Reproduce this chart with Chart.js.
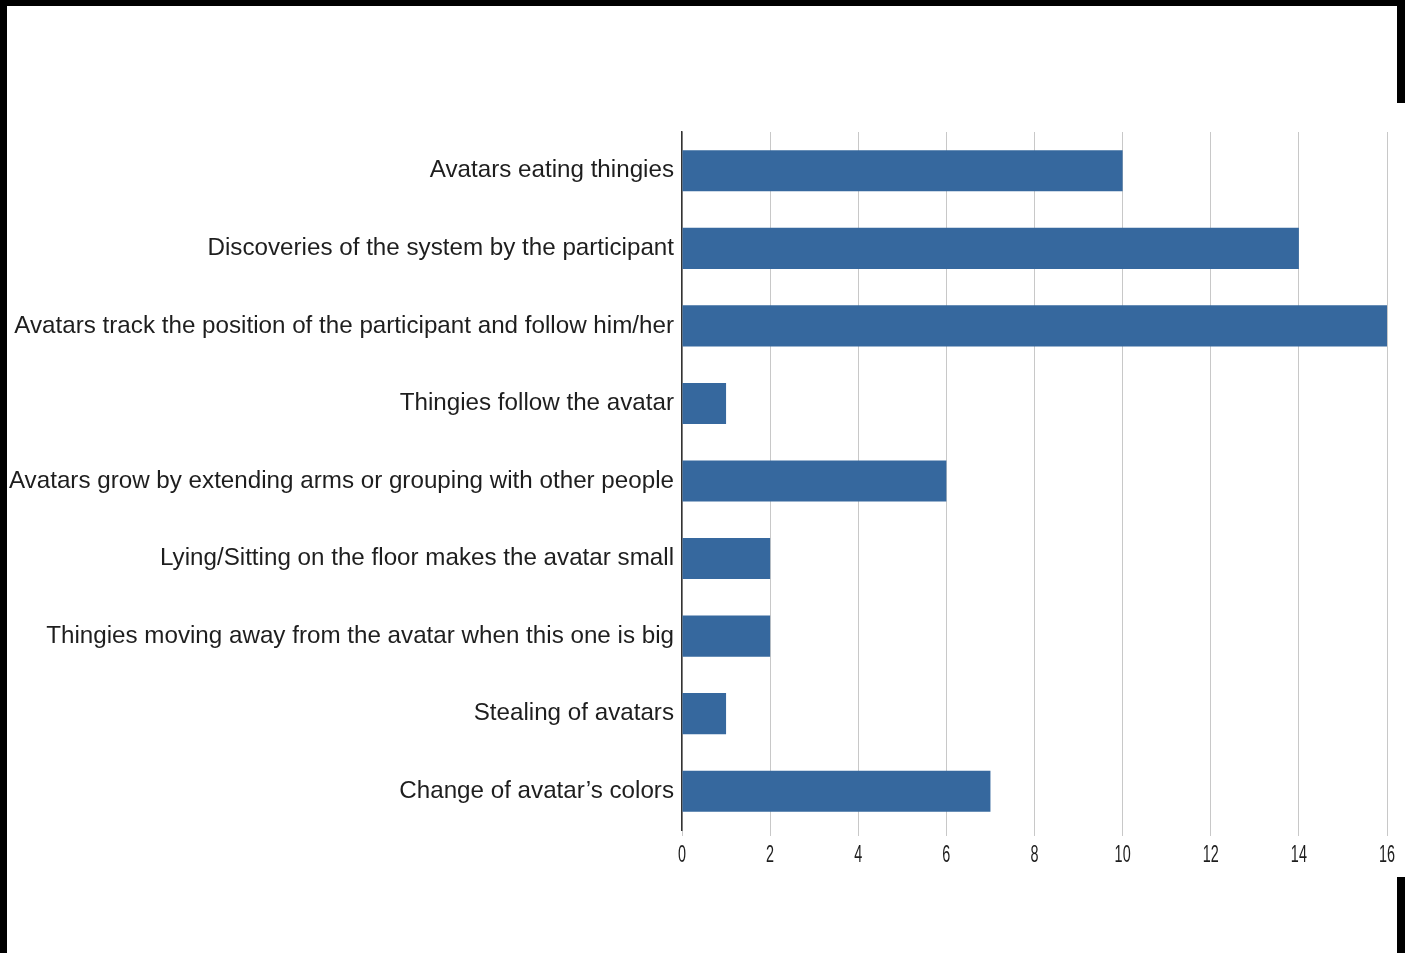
<!DOCTYPE html>
<html lang="en">
<head>
    <meta charset="UTF-8">
    <title>Observed behaviours</title>
    <script src="https://cdn.jsdelivr.net/npm/chart.js"></script>
    <style>
        body {
            margin: 0;
            background-color: #fff;
            width: 1405px;
            height: 953px;
            overflow: hidden;
            position: relative;
        }
        #wrap {
            position: absolute;
            left: 0;
            top: 0;
            width: 1405px;
            height: 953px;
        }
        /* black scan border around the figure */
        .edge { position: absolute; background: #000; }
        .top { left: 0; top: 0; width: 1405px; height: 6px; }
        .left { left: 0; top: 0; width: 7px; height: 953px; }
        .right1 { left: 1397px; top: 0; width: 8px; height: 103px; }
        .right2 { left: 1397px; top: 877px; width: 8px; height: 76px; }
    </style>
</head>
<body>
    <div id="wrap"><canvas id="barChart" width="1405" height="953"></canvas></div>
    <div class="edge top"></div>
    <div class="edge left"></div>
    <div class="edge right1"></div>
    <div class="edge right2"></div>
    <script>
        const categories = [
            'Avatars eating thingies',
            'Discoveries of the system by the participant',
            'Avatars track the position of the participant and follow him/her',
            'Thingies follow the avatar',
            'Avatars grow by extending arms or grouping with other people',
            'Lying/Sitting on the floor makes the avatar small',
            'Thingies moving away from the avatar when this one is big',
            'Stealing of avatars',
            'Change of avatar\u2019s colors'
        ];
        const counts = [10, 14, 16, 1, 6, 2, 2, 1, 7];
        const xTicks = [0, 2, 4, 6, 8, 10, 12, 14, 16];

        // x tick labels in the original are a tall condensed face,
        // so draw them squeezed horizontally at the scale's own positions
        const narrowTicks = {
            id: 'narrowTicks',
            afterDraw(chart) {
                const sx = chart.scales.x;
                const c = chart.ctx;
                c.save();
                c.fillStyle = '#1e1e1e';
                c.font = '24px "Liberation Sans", Arial, sans-serif';
                c.textAlign = 'center';
                c.textBaseline = 'middle';
                sx.ticks.forEach(t => {
                    c.save();
                    c.translate(sx.getPixelForValue(t.value), sx.top + 25);
                    c.scale(0.6, 1);
                    c.fillText(String(t.value), 0, 0);
                    c.restore();
                });
                c.restore();
            }
        };

        const ctx = document.getElementById('barChart').getContext('2d');
        new Chart(ctx, {
            type: 'bar',
            data: {
                labels: categories,
                datasets: [{
                    data: counts,
                    backgroundColor: '#36689e',
                    borderWidth: 0,
                    categoryPercentage: 0.53,
                    barPercentage: 1.0
                }]
            },
            options: {
                indexAxis: 'y',
                responsive: false,
                animation: false,
                layout: {
                    padding: { left: 0, right: 18, top: 132, bottom: 73 }
                },
                plugins: {
                    legend: { display: false },
                    tooltip: { enabled: false }
                },
                scales: {
                    x: {
                        min: 0,
                        max: 16,
                        afterBuildTicks: axis => {
                            axis.ticks = xTicks.map(v => ({ value: v }));
                        },
                        afterFit: axis => { axis.height = 50; },
                        grid: {
                            color: '#c8c8c8',
                            lineWidth: 1,
                            tickLength: 6,
                            drawTicks: true
                        },
                        border: { display: false },
                        ticks: { display: false }
                    },
                    y: {
                        afterFit: axis => { axis.width = 682; },
                        grid: { display: false },
                        border: { display: true, color: '#333', width: 1.5 },
                        ticks: {
                            padding: 0,
                            color: '#1e1e1e',
                            font: {
                                family: '"Liberation Sans", Arial, sans-serif',
                                size: 24.2
                            }
                        }
                    }
                }
            },
            plugins: [narrowTicks]
        });
    </script>
</body>
</html>
